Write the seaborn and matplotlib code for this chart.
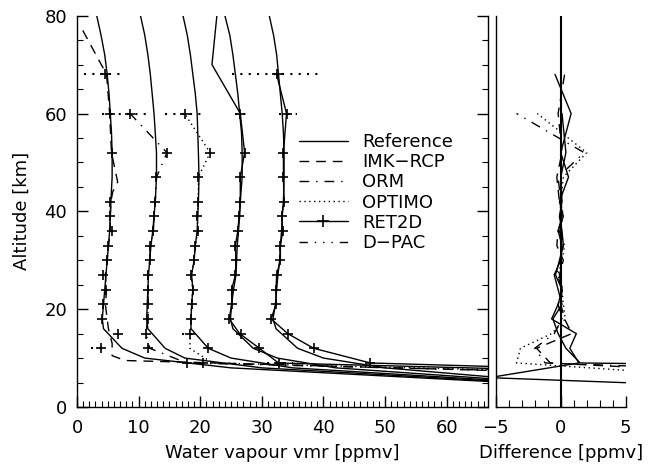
import numpy as np
import pandas as pd
import matplotlib
matplotlib.use("Agg")
import matplotlib.pyplot as plt
import seaborn as sns
from matplotlib.ticker import MultipleLocator, NullLocator
from matplotlib.lines import Line2D

sns.set_theme(style="white")
plt.rcParams["font.family"] = ["DejaVu Sans"]
plt.rcParams["text.color"] = "black"
plt.rcParams["axes.labelcolor"] = "black"
plt.rcParams["xtick.color"] = "black"
plt.rcParams["ytick.color"] = "black"

# ---------------- data ----------------
# reference profiles (one per column), vmr [ppmv] at altitude [km]
ref_alt = [5, 8, 10, 12, 16, 18, 21, 24, 27, 30, 33, 36, 39, 42, 47, 52, 56, 60, 64, 68, 72, 76, 80]
ref_c1 = [70, 25, 11.0, 7.3, 4.3, 4.1, 4.3, 4.5, 4.7, 4.9, 5.1, 5.3, 5.4, 5.5, 5.7, 5.7, 5.6, 5.4, 5.2, 4.9, 4.5, 3.9, 3.2]
ref_c2 = [72, 30, 17.5, 14.3, 11.5, 11.3, 11.4, 11.5, 11.6, 11.8, 12.0, 12.3, 12.5, 12.7, 12.9, 12.9, 12.7, 12.5, 12.2, 11.9, 11.5, 11.0, 10.3]
ref_c3 = [74, 35, 25.0, 21.3, 18.5, 18.5, 18.6, 18.8, 18.6, 19.0, 19.2, 19.5, 19.6, 19.7, 19.8, 19.7, 19.6, 19.5, 19.2, 18.8, 18.4, 17.9, 17.2]
ref_c4 = [76, 42, 32.5, 28.6, 25.3, 24.9, 25.1, 25.4, 25.8, 25.9, 26.0, 26.2, 26.4, 26.5, 26.8, 26.8, 26.7, 26.4, 26.1, 25.7, 25.3, 24.8, 24.0]
ref_c5 = [78, 50, 40.0, 35.8, 32.3, 31.8, 32.2, 32.4, 32.6, 32.9, 33.0, 33.2, 33.3, 33.5, 33.6, 33.6, 33.5, 33.3, 33.0, 32.7, 32.4, 31.9, 31.2]

# retrieved profiles (lines)
imk_alt = [6, 9.5, 10.5, 13, 16, 21, 24, 27, 30, 33, 36, 39, 42, 44, 46, 52, 60, 68, 78]
imk_vmr = [110, 7.8, 5.7, 5.7, 5.1, 4.6, 4.8, 4.6, 4.9, 5.1, 5.4, 5.4, 5.5, 5.8, 6.6, 5.6, 5.3, 4.8, 0.5]
orm_alt = [6, 9, 12, 15, 18, 21, 24, 27, 30, 33, 36, 39, 42, 47, 52, 60]
orm_vmr = [118, 17.8, 11.8, 11.2, 11.45, 11.6, 11.45, 11.5, 11.8, 11.9, 12.4, 12.5, 12.7, 12.9, 14.6, 8.6]
opt_alt = [6, 9, 12, 15, 18, 21, 24, 27, 30, 33, 36, 39, 42, 47, 52, 60]
opt_vmr = [120, 22.0, 18.3, 18.4, 18.5, 18.6, 18.8, 18.5, 19.0, 19.2, 19.6, 19.5, 19.7, 19.7, 21.6, 17.45]
r2d_alt = [6, 9, 12, 15, 18, 21, 24, 27, 30, 33, 36, 39, 42, 47, 52, 60, 70, 80]
r2d_vmr = [125, 32.7, 29.6, 26.4, 24.7, 25.1, 25.1, 25.7, 25.8, 25.7, 26.1, 26.3, 26.5, 26.5, 27.2, 26.5, 21.9, 22.7]
dpac_alt = [6, 9, 12, 15, 18, 21, 24, 27, 30, 33, 36, 39, 42, 47, 52, 60, 68]
dpac_vmr = [130, 47.6, 38.4, 34.2, 31.5, 32.3, 32.3, 32.4, 33.0, 33.0, 33.4, 33.2, 33.6, 33.5, 33.5, 34.0, 32.4]

# '+' markers at tangent altitudes, per column
mk1_alt = [12, 15, 18, 21, 24, 27, 30, 33, 36, 39, 42, 52, 60, 68]
mk1_vmr = [3.9, 6.7, 4.05, 4.2, 4.7, 4.2, 4.8, 5.1, 5.6, 5.4, 5.4, 5.6, 5.3, 4.6]
mk2_alt = [9, 12, 15, 18, 21, 24, 27, 30, 33, 36, 39, 42, 47, 52, 60]
mk2_vmr = [17.8, 11.45, 11.2, 11.45, 11.6, 11.45, 11.5, 11.8, 11.9, 12.4, 12.5, 12.7, 12.9, 14.6, 8.6]
mk3_alt = [9, 12, 15, 18, 21, 24, 27, 30, 33, 36, 39, 42, 47, 52, 60]
mk3_vmr = [20.4, 21.3, 18.4, 18.5, 18.6, 18.8, 18.5, 19.0, 19.2, 19.6, 19.5, 19.7, 19.7, 21.6, 17.45]
mk4_alt = [9, 12, 15, 18, 21, 24, 27, 30, 33, 36, 39, 42, 47, 52, 60]
mk4_vmr = [32.7, 29.6, 26.6, 24.7, 25.1, 25.1, 25.7, 25.8, 25.7, 26.1, 26.3, 26.5, 26.5, 27.2, 26.5]
mk5_alt = [9, 12, 15, 18, 21, 24, 27, 30, 33, 36, 39, 42, 47, 52, 60, 68]
mk5_vmr = [47.6, 38.4, 34.2, 31.5, 32.3, 32.3, 32.4, 33.0, 33.0, 33.4, 33.2, 33.6, 33.5, 33.5, 34.0, 32.4]

# dotted horizontal error bars
err_alt = [68, 68, 60, 60, 60, 60, 15, 12, 9]
err_lo = [1.1, 25.1, 4.05, 14.3, 25.6, 32.7, 17.0, 2.2, 30.8]
err_hi = [7.6, 39.7, 11.9, 20.5, 27.6, 35.7, 18.9, 4.9, 35.1]

# differences (retrieval - reference) for the right panel
d_imk_alt = [6, 9, 12, 15, 18, 21, 24, 27, 30, 33, 36, 39, 42, 47, 52, 60, 68]
d_imk = [21, -0.8, -1.85, 0.85, 0.3, 0.0, 0.1, -0.1, 0.2, -0.3, -0.2, 0.1, -0.1, -0.3, 0.1, -0.2, 0.3]
d_orm_alt = [6, 9, 12, 15, 18, 21, 24, 27, 30, 33, 36, 39, 42, 47, 52, 60]
d_orm = [30, -1.2, -2.0, -0.5, 0.1, -0.2, 0.2, -0.3, 0.0, 0.2, -0.1, 0.1, 0.0, -0.2, 1.8, -3.4]
d_opt_alt = [6, 9, 12, 15, 18, 21, 24, 27, 30, 33, 36, 39, 42, 47, 52, 60]
d_opt = [13.4, -3.4, -3.1, -0.7, 0.35, 0.2, 0.1, -0.2, 0.1, 0.3, -0.1, 0.2, 0.0, 0.2, 2.0, -1.8]
d_r2d_alt = [3, 6, 9, 12, 15, 18, 21, 24, 27, 30, 33, 36, 39, 42, 47, 52, 60]
d_r2d = [25, -5.5, 1.4, 0.7, 1.2, -0.7, -0.2, 0.1, -0.4, -0.1, 0.2, 0.1, -0.1, 0.1, 0.0, 0.4, 0.1]
d_dpac_alt = [8, 9, 12, 15, 18, 21, 24, 27, 30, 33, 36, 39, 42, 47, 52, 60, 68]
d_dpac = [35, 1.5, 0.4, -0.2, -0.6, 0.1, -0.2, -0.5, 0.0, 0.1, -0.2, 0.2, -0.1, 0.6, 0.0, 0.8, -0.44]

legend_labels = ["Reference", "IMK\u2212RCP", "ORM", "OPTIMO", "RET2D", "D\u2212PAC"]

# ---------------- styles ----------------
LS = {
    "Reference": "-",
    "IMK": (0, (7, 5)),
    "ORM": (0, (7, 5, 1, 5)),
    "OPTIMO": (0, (1, 2.5)),
    "RET2D": "-",
    "DPAC": (0, (6, 5, 1, 5, 1, 5, 1, 5)),
}
LW = 1.0
K = "black"

fig = plt.figure(figsize=(6.52, 4.67), dpi=100)
ax = fig.add_axes([0.1181, 0.1285, 0.6304, 0.8379])
ax2 = fig.add_axes([0.7603, 0.1285, 0.1994, 0.8379])


def prof(axis, x, y, ls, **kw):
    df = pd.DataFrame({"x": x, "y": y})
    sns.lineplot(data=df, x="x", y="y", sort=False, estimator=None, ax=axis,
                 color=K, lw=LW, linestyle=ls, legend=False, **kw)


# reference curves
for rc in [ref_c1, ref_c2, ref_c3, ref_c4, ref_c5]:
    prof(ax, rc, ref_alt, LS["Reference"])

# retrievals
prof(ax, imk_vmr, imk_alt, LS["IMK"])
prof(ax, orm_vmr, orm_alt, LS["ORM"])
prof(ax, opt_vmr, opt_alt, LS["OPTIMO"])
prof(ax, r2d_vmr, r2d_alt, LS["RET2D"])
prof(ax, dpac_vmr, dpac_alt, "-")

# error bars
ax.hlines(err_alt, err_lo, err_hi, colors=K, linestyles=(0, (1, 3)), lw=1.5)

# '+' markers
for mx, my in [(mk1_vmr, mk1_alt), (mk2_vmr, mk2_alt), (mk3_vmr, mk3_alt),
               (mk4_vmr, mk4_alt), (mk5_vmr, mk5_alt)]:
    sns.scatterplot(x=mx, y=my, ax=ax, marker="+", s=60, color=K, linewidth=1.2, legend=False)

# right panel
prof(ax2, d_imk, d_imk_alt, LS["IMK"])
prof(ax2, d_orm, d_orm_alt, LS["ORM"])
prof(ax2, d_opt, d_opt_alt, LS["OPTIMO"])
prof(ax2, d_r2d, d_r2d_alt, LS["RET2D"])
prof(ax2, d_dpac, d_dpac_alt, "-")
ax2.axvline(0, color=K, lw=1.5)

# ---------------- axes ----------------
FS = 13
for a in (ax, ax2):
    a.set_facecolor("white")
    a.set_ylim(0, 80)
    for s in a.spines.values():
        s.set_color(K)
        s.set_linewidth(1.0)
    a.spines["top"].set_visible(False)
    a.set_ylabel("")
    a.set_xlabel("")

ax.set_xlim(0, 66.7)
ax.xaxis.set_major_locator(MultipleLocator(10))
ax.xaxis.set_minor_locator(MultipleLocator(1))
ax.yaxis.set_major_locator(MultipleLocator(20))
ax.yaxis.set_minor_locator(MultipleLocator(5))
ax.tick_params(axis="both", which="both", direction="in", colors=K, labelsize=FS,
               bottom=True, left=True, right=True, top=False, labelright=False)
ax.tick_params(axis="both", which="major", length=8, width=1.0)
ax.tick_params(axis="both", which="minor", length=4.5, width=0.8)
ax.tick_params(axis="x", pad=9)
ax.tick_params(axis="y", pad=7)
ax.set_xticks([0, 10, 20, 30, 40, 50, 60])
ax.set_xlabel("Water vapour vmr [ppmv]", fontsize=FS, labelpad=5, color=K)
ax.set_ylabel("Altitude [km]", fontsize=FS, labelpad=10, color=K)

ax2.set_xlim(-5, 5)
ax2.spines["right"].set_visible(False)
ax2.set_xticks([-5, 0, 5])
ax2.set_xticklabels(["\u22125", "0", "5"])
ax2.xaxis.set_minor_locator(MultipleLocator(1))
ax2.yaxis.set_major_locator(NullLocator())
ax2.yaxis.set_minor_locator(NullLocator())
ax2.tick_params(axis="x", which="both", direction="in", colors=K, labelsize=FS, bottom=True, top=False, pad=9)
ax2.tick_params(axis="x", which="major", length=8, width=1.0)
ax2.tick_params(axis="x", which="minor", length=5, width=0.8)
ax2.set_xlabel("Difference [ppmv]", fontsize=FS, labelpad=5, color=K)

# legend
handles = [
    Line2D([], [], color=K, lw=LW, linestyle=LS["Reference"]),
    Line2D([], [], color=K, lw=LW, linestyle=LS["IMK"]),
    Line2D([], [], color=K, lw=LW, linestyle=LS["ORM"]),
    Line2D([], [], color=K, lw=LW, linestyle=LS["OPTIMO"]),
    Line2D([], [], color=K, lw=LW, linestyle=LS["RET2D"], marker="+", markersize=8,
           markeredgewidth=1.2),
    Line2D([], [], color=K, lw=LW, linestyle=LS["DPAC"]),
]
leg = ax.legend(handles, legend_labels, loc="upper left", bbox_to_anchor=(0.54, 0.70),
                frameon=False, fontsize=FS, handlelength=2.7, handletextpad=0.8,
                labelspacing=0.12, borderaxespad=0, borderpad=0, markerfirst=True)
for t in leg.get_texts():
    t.set_color(K)

fig.savefig("out.png", dpi=100, facecolor="white")
